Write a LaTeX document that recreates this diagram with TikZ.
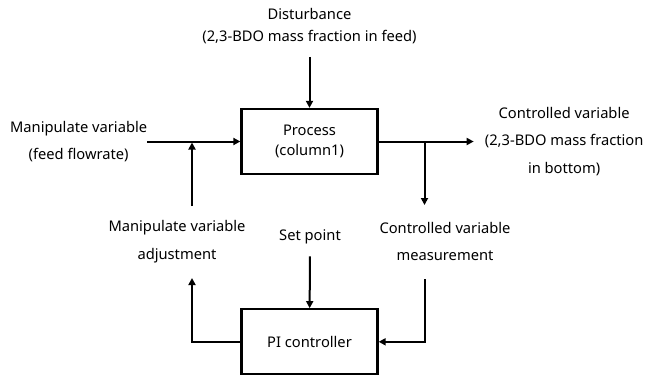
\documentclass[tikz,border=0pt]{standalone}
\usepackage{fontspec}
\setmainfont{Noto Sans}
\usetikzlibrary{arrows.meta, positioning}

\begin{document}
\begin{tikzpicture}[
    x=1pt, y=1pt,
    block/.style={draw, line width=2.3pt, minimum width=136pt, minimum height=65pt, align=center, font=\fontsize{14.7}{19.5}\selectfont},
    lbl/.style={align=center, inner sep=0pt, font=\fontsize{14.7}{27.5}\selectfont},
    arrow/.style={-{Triangle[length=7pt,width=7pt]}, line width=2pt},
    node distance=133pt
]
    \useasboundingbox (0,0) rectangle (645,-376);

    \node[block] (process) at (309.5,-141.5) {Process\\(column1)};
    \node[block, below=of process] (pi) {PI controller};

    \node[lbl, font=\fontsize{14.7}{22}\selectfont] (dist) at (309.5,-26) {Disturbance\\(2,3-BDO mass fraction in feed)};
    \node[lbl, left=93pt of process] (mv) {Manipulate variable\\(feed flowrate)};
    \node[lbl, right=106pt of process] (cv) {Controlled variable\\(2,3-BDO mass fraction\\in bottom)};
    \node[lbl] (mvadj) at (177,-241.5) {Manipulate variable\\adjustment};
    \node[lbl] (sp) at (310,-237) {Set point};
    \node[lbl] (cvmeas) at (445,-241.5) {Controlled variable\\measurement};

    \coordinate (merge) at (192,-141.5);
    \coordinate (adjfoot) at (192,-206);
    \coordinate (adjtip) at (192,-278);
    \coordinate (split) at (424.5,-141.5);
    \coordinate (meastip) at (424.5,-205);
    \coordinate (measfoot) at (424.5,-279);

    \draw[arrow, shorten <=13pt] (dist) -- (process);
    \draw[arrow] (mv) -- (process);
    \draw[arrow, shorten >=11pt] (process) -- (cv);
    \draw[arrow] (split) -- (meastip);
    \draw[arrow, shorten >=1pt] (adjfoot) -- (merge);
    \draw[arrow, shorten <=12pt] (sp) -- (pi);
    \draw[arrow] (measfoot) |- (pi);
    \draw[arrow] (pi) -| (adjtip);
\end{tikzpicture}
\end{document}
